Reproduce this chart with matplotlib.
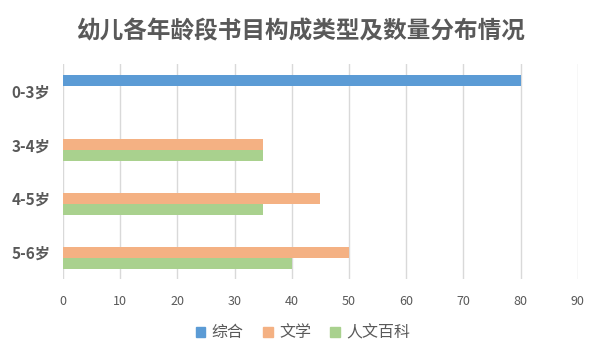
import numpy as np
import matplotlib
matplotlib.use("Agg")
import matplotlib.pyplot as plt
from matplotlib.patches import Patch

plt.rcParams['font.family'] = ['Noto Sans CJK SC', 'DejaVu Sans']

title = "幼儿各年龄段书目构成类型及数量分布情况"
categories = ["0-3岁", "3-4岁", "4-5岁", "5-6岁"]
series_names = ["综合", "文学", "人文百科"]
zonghe = [80, 0, 0, 0]
wenxue = [0, 35, 45, 50]
renwen = [0, 35, 35, 40]
colors = ["#5B9BD5", "#F4B183", "#A9D18E"]

fig = plt.figure(figsize=(6, 3.6), dpi=100)
ax = fig.add_axes([0.105, 0.224, 0.858, 0.598])

y = np.arange(len(categories))
h = 0.204
for i, (vals, c) in enumerate(zip([zonghe, wenxue, renwen], colors)):
    ax.barh(y + (i - 1) * h, vals, height=h, color=c, zorder=3)

ax.set_ylim(len(categories) - 0.5, -0.5)
ax.set_xlim(0, 90)
ax.set_xticks(range(0, 91, 10))
ax.set_yticks(y)
ax.set_yticklabels(categories, fontsize=11, fontweight='bold', color='#595959')
ax.tick_params(axis='y', length=0, pad=9)
ax.tick_params(axis='x', length=0, pad=11, labelsize=9, labelcolor='#595959')
ax.grid(axis='x', color='#D9D9D9', linewidth=1, zorder=0)
for s in ax.spines.values():
    s.set_visible(False)

fig.suptitle(title, y=0.945, fontsize=17, fontweight='bold', color='#595959')

handles = [Patch(color=c) for c in colors]
fig.legend(handles, series_names, loc='center', bbox_to_anchor=(0.505, 0.075),
           ncol=3, frameon=False, fontsize=11.5, handlelength=0.6, handleheight=0.6,
           handletextpad=0.4, columnspacing=1.2, labelcolor='#595959')

fig.savefig("out.png", dpi=100)
